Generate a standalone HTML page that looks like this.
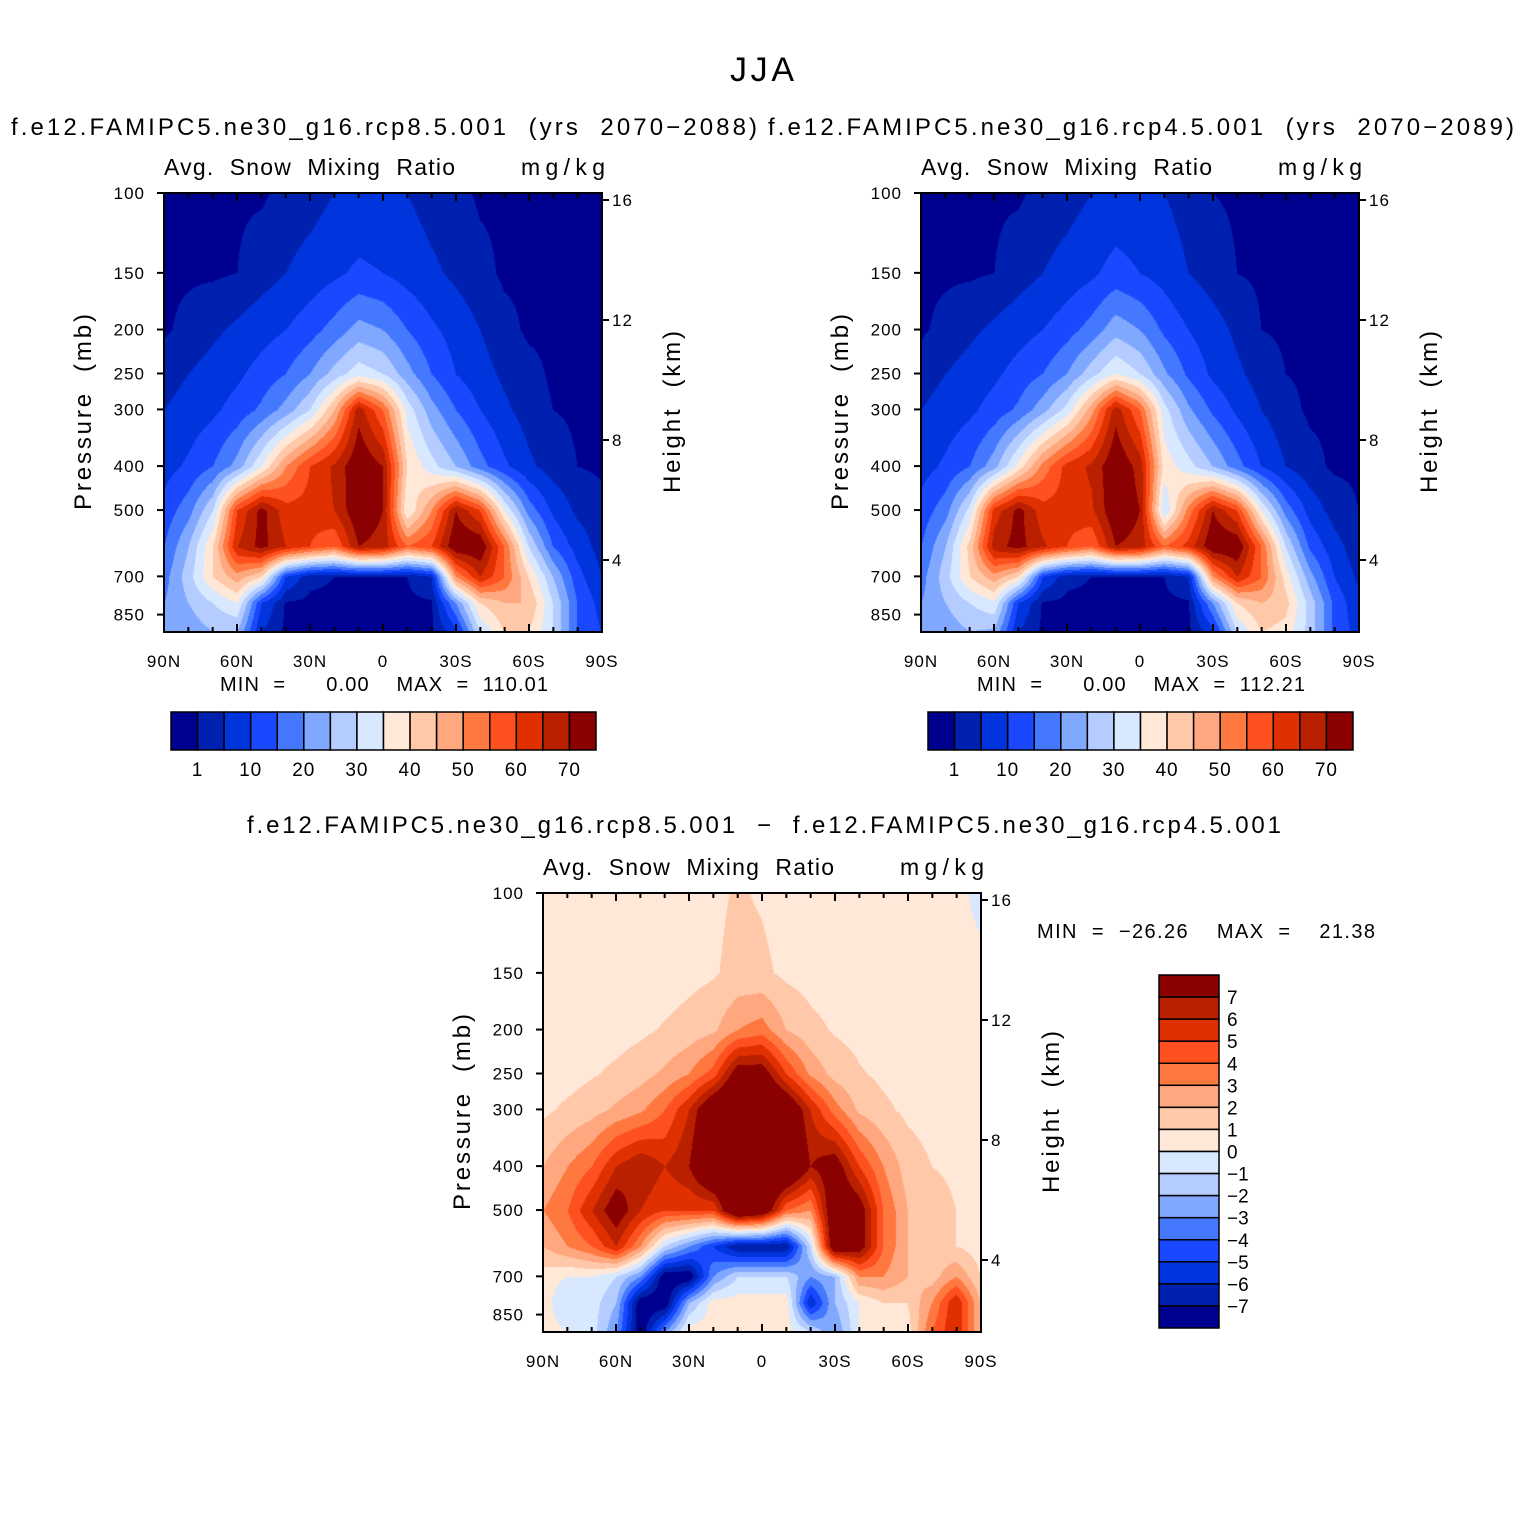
<!DOCTYPE html>
<html><head><meta charset="utf-8">
<style>
body{margin:0;background:#fff;}
#root{position:relative;width:1524px;height:1524px;overflow:hidden;background:#fff;}
canvas{position:absolute;}
svg{position:absolute;left:0;top:0;}
text{font-family:"Liberation Sans",sans-serif;fill:#000;white-space:pre;}
</style></head>
<body>
<div id="root">
<canvas id="c1" width="438" height="439" style="left:164px;top:193px"></canvas>
<canvas id="c2" width="438" height="439" style="left:921px;top:193px"></canvas>
<canvas id="c3" width="438" height="439" style="left:543px;top:893px"></canvas>
<svg id="ov" width="1524" height="1524"></svg>
</div>
<script>
// ---- data ----
const latLabels = ["90N","60N","30N","0","30S","60S","90S"];
const pLevels = [100,150,200,250,300,400,500,600,700,800,925];
const pTicks = [100,150,200,250,300,400,500,700,850];
const hTicks = [4,8,12,16];
const absLevels = [1,5,10,15,20,25,30,35,40,45,50,55,60,65,70];
const absLabels = ["1","10","20","30","40","50","60","70"];
const diffLevels = [-7,-6,-5,-4,-3,-2,-1,0,1,2,3,4,5,6,7];
const diffLabels = ["7","6","5","4","3","2","1","0","\u22121","\u22122","\u22123","\u22124","\u22125","\u22126","\u22127"];
const colors = ["#000090","#0020b0","#0034dc","#1a48ff","#4478ff","#80a8ff","#b4ccff","#d8e8ff","#ffe8d8","#ffc8a8","#ffa880","#ff7840","#ff5020","#e03000","#b82000","#8b0000"];
const rcp85 = [
[0.5,0.5,0.5,0.5,0.5,2,3,5,6,6,5,3,2,0.5,0.5,0.5,0.5,0.5,0.5],
[0.5,0.5,0.5,1,3,5,7,9,11,10,8,6,4,2,0.5,0.5,0.5,0.5,0.5],
[0.5,2,4,6,8,10,13,17,22,20,15,11,8,5,2,0.5,0.5,0.5,0.5],
[3,5,7,9,12,15,20,27,33,30,22,15,10,7,4,2,0.5,0.5,0.5],
[5,7,9,12,16,22,30,45,68,55,33,22,15,10,6,3,1,0.5,0.5],
[8,11,15,22,35,50,60,66,75,70,40,32,25,17,11,6,3,1,0.5],
[12,18,30,60,72,62,62,65,75,70,35,50,70,60,35,18,9,4,2],
[15,25,40,65,72,65,60,55,70,68,55,60,75,75,55,30,15,8,3],
[18,28,40,48,40,10,2,1,1,1,1,5,50,65,55,40,25,12,5],
[20,25,30,35,10,0.5,0.2,0.2,0.2,0.2,0.2,0.5,20,40,45,45,30,15,8],
[22,22,25,25,5,0.2,0.1,0.1,0.1,0.1,0.1,0.2,8,30,40,40,30,15,10]];
const rcp45 = [
[0.5,0.5,0.5,0.5,0.5,2,3,5,6,6,5,3,1,0.5,0.5,0.5,0.5,0.5,0.5],
[0.5,0.5,0.5,1,3,5,7,9,12,10,8,5,3,1,0.5,0.5,0.5,0.5,0.5],
[0.5,2,4,6,8,10,13,17,23,20,14,10,7,4,1,0.5,0.5,0.5,0.5],
[3,5,7,9,12,15,20,28,35,30,21,14,9,6,3,1,0.5,0.5,0.5],
[5,7,9,12,16,23,32,48,68,55,32,21,14,9,5,2,0.5,0.5,0.5],
[8,11,15,23,37,52,62,66,75,68,38,32,25,17,10,5,2,0.5,0.5],
[12,18,32,62,72,62,62,64,75,70,30,52,70,60,35,18,8,3,1],
[15,25,42,68,72,66,60,55,70,68,55,62,75,75,55,30,14,7,2],
[18,28,40,48,40,10,2,1,1,1,1,5,50,65,55,38,22,10,4],
[20,25,30,34,10,0.5,0.2,0.2,0.2,0.2,0.2,0.5,20,40,45,42,28,14,6],
[22,22,25,24,5,0.2,0.1,0.1,0.1,0.1,0.1,0.2,8,30,40,38,28,14,8]];
const diff = [
[0.5,0.5,0.5,0.5,0.5,0.5,0.5,0.8,1.1,0.9,0.6,0.5,0.5,0.5,0.5,0.5,0.5,0.5,-0.5],
[0.5,0.5,0.5,0.5,0.5,0.5,0.7,0.9,1.3,1.2,0.8,0.6,0.5,0.5,0.5,0.5,0.5,0.5,0.5],
[0.5,0.5,0.5,0.6,0.8,1.1,1.4,1.8,3,3.5,2,1.3,0.9,0.7,0.5,0.5,0.5,0.5,0.5],
[0.5,0.6,0.9,1.2,1.6,2.2,3,4.5,8,8,5,2.8,1.6,1.1,0.8,0.6,0.5,0.5,0.5],
[0.8,1.2,1.6,2.2,2.8,4,6,9,10,10,9,6,3.5,1.8,1.2,0.8,0.6,0.5,0.5],
[2,3,4,6,7,6,7,10,10,10,10,7,8,5,3,1.5,1,0.8,0.5],
[3,4,6,8,6,5,5,5,10,9,4,3,9,8,4,2,1.5,1,0.5],
[2,3,4,6,3,-1,-3,-5,-7,-7,-7,-1,9,8,4,2,1.5,1,0.5],
[0.5,0,0,-1,-3,-8,-8,-3,-1,-1,-1,-3,-2,3,3,2,1.5,3,1],
[0.5,-1,-0.5,-2,-8,-8,-2,0.5,0.5,0.5,0.5,-6,-2,0,1,1,3,6,2],
[0.5,0,-0.5,-3,-8,-3,0.5,0.5,0.5,0.5,0.5,-1,-3,0,0.5,0.5,4,6,2]];

// ---- helpers ----
const W=438,H=439,PS=197;
function yOfP(p){return PS*Math.log(p/100);}
function hexRGB(h){return [parseInt(h.substr(1,2),16),parseInt(h.substr(3,2),16),parseInt(h.substr(5,2),16)];}
const rgb=colors.map(hexRGB);
function colIdx(v,levels){let i=0;while(i<levels.length&&v>=levels[i])i++;return i;}
function drawField(id,grid,levels){
  const cv=document.getElementById(id),ctx=cv.getContext('2d');
  const img=ctx.createImageData(W,H);
  const lp=pLevels.map(p=>Math.log(p));
  const nc=grid[0].length;
  for(let y=0;y<H;y++){
    const l=Math.log(100)+y/PS;
    let r=0;while(r<lp.length-2&&l>lp[r+1])r++;
    let fy=(l-lp[r])/(lp[r+1]-lp[r]);fy=Math.max(0,Math.min(1,fy));
    for(let x=0;x<W;x++){
      const u=x/(W-1)*(nc-1);let c=Math.min(nc-2,Math.floor(u));const fx=u-c;
      const v=(grid[r][c]*(1-fx)+grid[r][c+1]*fx)*(1-fy)+(grid[r+1][c]*(1-fx)+grid[r+1][c+1]*fx)*fy;
      const k=colIdx(v,levels),o=(y*W+x)*4;
      img.data[o]=rgb[k][0];img.data[o+1]=rgb[k][1];img.data[o+2]=rgb[k][2];img.data[o+3]=255;
    }
  }
  ctx.putImageData(img,0,0);
}
const NS="http://www.w3.org/2000/svg",ov=document.getElementById('ov');
function el(tag,attrs,txt){const e=document.createElementNS(NS,tag);for(const k in attrs)e.setAttribute(k,attrs[k]);if(txt!==undefined)e.textContent=txt;ov.appendChild(e);return e;}
function txt(x,y,s,size,anchor,name,extra){
  const t=el('text',Object.assign({x:x,y:y,'font-size':size,'text-anchor':anchor||'start'},extra||{}),s);
  
  
  return t;
}
function fit(len){return {textLength:len,lengthAdjust:'spacing'};}
function axes(x0,y0,key){
  const g=el('rect',{x:x0,y:y0,width:W,height:H,fill:'none',stroke:'#000','stroke-width':2});
  
  
  pTicks.forEach(p=>{const y=y0+yOfP(p);
    el('line',{x1:x0-7,x2:x0,y1:y,y2:y,stroke:'#000','stroke-width':2});
    txt(x0-19,y+6,String(p),17,'end',key+'-pressure-tick-label',{'letter-spacing':'1'});});
  hTicks.forEach(h=>{const yy=y0+7+(16-h)*30;
    el('line',{x1:x0+W,x2:x0+W+7,y1:yy,y2:yy,stroke:'#000','stroke-width':2});
    txt(x0+W+10,yy+6,String(h),17,'start',key+'-height-tick-label',{'letter-spacing':'1'});});
  for(let i=0;i<=18;i++){const x=x0+i*W/18;const major=i%3===0;
    el('line',{x1:x,x2:x,y1:y0+H,y2:y0+H-(major?8:5),stroke:'#000','stroke-width':2});
    el('line',{x1:x,x2:x,y1:y0,y2:y0+(major?8:5),stroke:'#000','stroke-width':2});
    if(major)txt(x,y0+H+35,latLabels[i/3],17,'middle',key+'-lat-tick-label',{'letter-spacing':'1'});}
  txt(x0,y0-18,"Avg.  Snow  Mixing  Ratio",23,'start',key+'-variable-label',fit(291));
  txt(x0+W+3,y0-18,"mg/kg",23,'end',key+'-units-label',fit(84));
  txt(0,0,"Pressure  (mb)",24,'middle',key+'-y-axis-title',Object.assign({transform:`translate(${x0-73},${y0+219}) rotate(-90)`},fit(196)));
  txt(0,0,"Height  (km)",24,'middle',key+'-right-axis-title',Object.assign({transform:`translate(${x0+W+78},${y0+219}) rotate(-90)`},fit(162)));
}
function hbar(x0,y0,key){
  const bw=425/16;
  colors.forEach((c,i)=>{const r=el('rect',{x:x0+i*bw,y:y0,width:bw,height:38,fill:c,stroke:'#000','stroke-width':1.5});
    });
  absLabels.forEach((s,j)=>txt(x0+(1+2*j)*bw,y0+64,s,19,'middle',key+'-colorbar-label',{'letter-spacing':'1'}));
}
// ---- draw ----
drawField('c1',rcp85,absLevels);
drawField('c2',rcp45,absLevels);
drawField('c3',diff,diffLevels);
txt(762,81,"JJA",34,'middle','main-title',fit(64));
txt(384,135,"f.e12.FAMIPC5.ne30_g16.rcp8.5.001  (yrs  2070\u22122088)",24,'middle','left-panel-title',fit(746));
txt(1141,135,"f.e12.FAMIPC5.ne30_g16.rcp4.5.001  (yrs  2070\u22122089)",24,'middle','right-panel-title',fit(746));
txt(764,833,"f.e12.FAMIPC5.ne30_g16.rcp8.5.001  \u2212  f.e12.FAMIPC5.ne30_g16.rcp4.5.001",24,'middle','difference-panel-title',fit(1034));
axes(164,193,'rcp85');axes(921,193,'rcp45');axes(543,893,'diff');
txt(220,691,"MIN  =      0.00    MAX  =  110.01",20,'start','rcp85-min-max',fit(328));
txt(977,691,"MIN  =      0.00    MAX  =  112.21",20,'start','rcp45-min-max',fit(328));
txt(1037,938,"MIN  =  \u221226.26    MAX  =    21.38",20,'start','diff-min-max',fit(338));
hbar(171,712,'rcp85');hbar(928,712,'rcp45');
const vb=353/16;
colors.slice().reverse().forEach((c,i)=>{const r=el('rect',{x:1159,y:975+i*vb,width:60,height:vb,fill:c,stroke:'#000','stroke-width':1.5});
  });
diffLabels.forEach((s,j)=>txt(1227,975+(j+1)*vb+7,s,19,'start','diff-colorbar-label'));
</script>
</body></html>
